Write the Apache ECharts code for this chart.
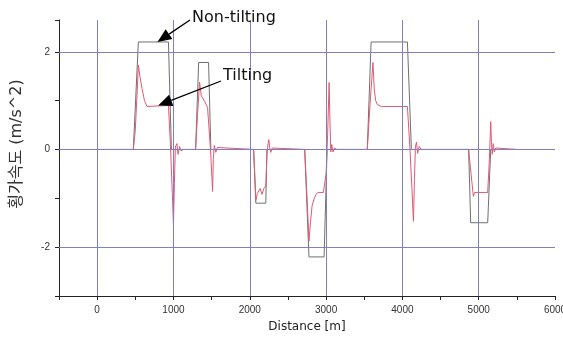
<!DOCTYPE html>
<html>
<head>
<meta charset="utf-8">
<script src="https://cdn.jsdelivr.net/npm/echarts@6/dist/echarts.min.js"></script>
<style>
  html, body { margin: 0; padding: 0; background: #fff; }
  #chart { width: 563px; height: 342px; }
</style>
</head>
<body>
<div id="chart"></div>
<script>
// grid lines drawn only at the labelled ticks
const gridX = [0, 1000, 2000, 3000, 4000, 5000];
const gridY = [-2, 0, 2];
const xRange = [-500, 6000];
const yRange = [-3, 2.65];

// [distance m, lateral acceleration m/s^2]
const nonTilting = [
    [0, 0], [474, 0], [540, 2.2], [934, 2.2], [973, 0],
    [1290, 0], [1330, 1.78], [1460, 1.78], [1490, 0],
    [2050, 0], [2080, -1.1], [2210, -1.1], [2225, 0],
    [2720, 0], [2776, -2.2], [2974, -2.2], [3013, 0],
    [3540, 0], [3590, 2.2], [4066, 2.2], [4118, 0],
    [4868, 0], [4895, -1.5], [5118, -1.5], [5158, 0], [5500, 0]
];

const tilting = [
    [0, 0], [474, 0], [500, 0.4], [525, 1.2], [540, 1.73], [560, 1.5], [588, 1.25], [620, 1.0], [654, 0.88], [680, 0.9], [934, 0.9],
    [960, 0.1], [985, -0.9], [1000, -1.55], [1012, -0.7], [1025, 0.05], [1045, 0.12], [1060, -0.1], [1080, 0.06], [1100, -0.03], [1130, 0],
    [1290, 0], [1315, 0.7], [1342, 1.38], [1364, 1.1], [1410, 0.98], [1447, 0.86], [1460, 0.86],
    [1485, 0], [1505, -0.6], [1513, -0.86], [1522, -0.2], [1535, 0.08], [1555, -0.06], [1575, 0.04], [1600, 0],
    [2050, 0], [2065, -0.5], [2080, -1.04], [2100, -0.9], [2136, -0.8], [2160, -0.92], [2185, -0.8], [2210, -0.75],
    [2225, -0.1], [2240, 0.12], [2250, 0.2], [2262, 0.02], [2275, -0.06], [2295, 0.03], [2320, 0],
    [2720, 0], [2745, -0.8], [2776, -1.88], [2795, -1.5], [2816, -1.16], [2845, -1.0], [2868, -0.92], [2895, -0.88], [2965, -0.88],
    [3000, -0.5], [3020, 0.3], [3040, 1.37], [3052, 0.5], [3062, -0.05], [3075, 0.1], [3090, -0.05], [3110, 0.03], [3140, 0],
    [3540, 0], [3575, 0.9], [3614, 1.78], [3632, 1.22], [3650, 1.0], [3671, 0.92], [3724, 0.88], [4066, 0.88],
    [4100, 0], [4125, -0.8], [4145, -1.47], [4158, -0.6], [4171, 0.05], [4185, 0.15], [4200, -0.08], [4220, 0.06], [4245, 0],
    [4868, 0], [4900, -0.5], [4930, -0.96], [4947, -0.88], [5118, -0.88],
    [5140, -0.2], [5158, 0.57], [5168, 0.1], [5178, -0.1], [5190, 0.12], [5205, -0.05], [5225, 0.03], [5250, 0], [5500, 0]
];

// annotation arrows: tip points at a data position, tail/text in pixels
const notes = [
    { text: 'Non-tilting', tip: [790, 2.2], tail: [190, 20], textPos: [192, 18] },
    { text: 'Tilting', tip: [800, 0.9], tail: [221, 81], textPos: [223, 76] }
];

const labelFont = { fontFamily: 'Liberation Sans', fontSize: 10, color: '#333' };

const chart = echarts.init(document.getElementById('chart'));

const gridLines = gridX.map(v => [{ coord: [v, yRange[0]] }, { coord: [v, yRange[1]] }])
    .concat(gridY.map(v => [{ coord: [xRange[0], v] }, { coord: [xRange[1], v] }]));

chart.setOption({
    animation: false,
    backgroundColor: '#fff',
    grid: { left: 59, right: 8, top: 20, bottom: 46, outerBoundsMode: 'none', containLabel: false },
    xAxis: {
        type: 'value',
        min: xRange[0],
        max: xRange[1],
        interval: 500,
        name: 'Distance [m]',
        nameLocation: 'middle',
        nameGap: 25,
        nameTextStyle: { fontFamily: 'DejaVu Sans', fontSize: 12, color: '#222' },
        axisLine: { show: true, onZero: false, lineStyle: { color: '#222', width: 1 } },
        axisTick: { show: true, length: 4, lineStyle: { color: '#222' } },
        axisLabel: Object.assign({
            margin: 9,
            showMaxLabel: true,
            hideOverlap: false,
            formatter: v => (v % 1000 === 0 ? String(v) : '')
        }, labelFont),
        splitLine: { show: false }
    },
    yAxis: {
        type: 'value',
        min: yRange[0],
        max: yRange[1],
        interval: 1,
        name: '횡가속도 (m/s^2)',
        nameLocation: 'middle',
        nameGap: 34,
        nameTextStyle: {
            fontFamily: 'DejaVu Sans, Noto Sans CJK KR',
            fontSize: 16,
            color: '#333',
            padding: [0, 0, 0, 28]
        },
        axisLine: { show: true, onZero: false, lineStyle: { color: '#222', width: 1 } },
        axisTick: { show: true, length: 4, lineStyle: { color: '#222' } },
        axisLabel: Object.assign({
            margin: 9,
            formatter: v => (Math.abs(v % 2) < 1e-9 ? String(v) : '')
        }, labelFont),
        splitLine: { show: false }
    },
    series: [
        {
            name: 'grid',
            type: 'line',
            data: [],
            z: 1,
            markLine: {
                silent: true,
                symbol: 'none',
                animation: false,
                label: { show: false },
                emphasis: { disabled: true },
                lineStyle: { color: '#7f7fc2', type: 'solid', width: 1 },
                data: gridLines
            }
        },
        {
            name: 'Non-tilting',
            type: 'line',
            data: nonTilting,
            z: 2,
            symbol: 'none',
            lineStyle: { color: '#707070', width: 1 }
        },
        {
            name: 'Tilting',
            type: 'line',
            data: tilting,
            z: 3,
            symbol: 'none',
            lineStyle: { color: '#e05a72', width: 1 }
        }
    ]
});

function arrow(tail, tip) {
    const dx = tip[0] - tail[0], dy = tip[1] - tail[1];
    const len = Math.hypot(dx, dy);
    const ux = dx / len, uy = dy / len;
    const L = 14, W = 6;
    const base = [tip[0] - ux * L, tip[1] - uy * L];
    return [
        {
            type: 'line',
            shape: { x1: tail[0], y1: tail[1], x2: base[0], y2: base[1] },
            style: { stroke: '#000', lineWidth: 1.3 },
            z: 10
        },
        {
            type: 'polygon',
            shape: { points: [tip, [base[0] - uy * W, base[1] + ux * W], [base[0] + uy * W, base[1] - ux * W]] },
            style: { fill: '#000' },
            z: 10
        }
    ];
}

const graphics = [];
notes.forEach(n => {
    const tip = chart.convertToPixel({ gridIndex: 0 }, n.tip);
    graphics.push(...arrow(n.tail, tip));
    graphics.push({
        type: 'text',
        x: n.textPos[0],
        y: n.textPos[1],
        z: 10,
        style: {
            text: n.text,
            fontFamily: 'DejaVu Sans',
            fontSize: 16,
            fill: '#111',
            verticalAlign: 'middle'
        }
    });
});
chart.setOption({ graphic: graphics });
</script>
</body>
</html>
